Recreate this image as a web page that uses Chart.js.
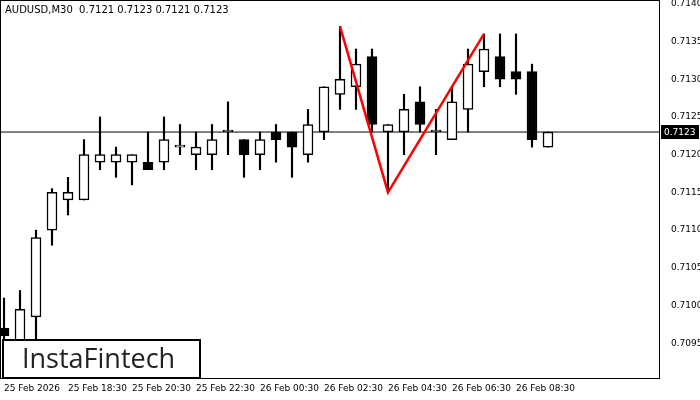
<!DOCTYPE html>
<html>
<head>
<meta charset="utf-8">
<script src="https://cdn.jsdelivr.net/npm/chart.js@4/dist/chart.umd.min.js"></script>
<style>
  html, body { margin: 0; padding: 0; background: #fff; }
  #wrap { width: 700px; height: 400px; }
</style>
</head>
<body>
<div id="wrap"><canvas id="chart"></canvas></div>
<script>
const opens  = [.7097,.7095,.70985,.7110,.7114,.7114,.7119,.7119,.7119,.7119,.7119,.7121,.7120,.7120,.7123,.7122,.7120,.7123,.7123,.7120,.7123,.7128,.7129,.7133,.7123,.7123,.7127,.7123,.7122,.7126,.7131,.7133,.7131,.7131,.7121]
const closes = [.7096,.70995,.7109,.7115,.7115,.7120,.7120,.7120,.7120,.7118,.7122,.7121,.7121,.7122,.7123,.7120,.7122,.7122,.7121,.7124,.7129,.7130,.7132,.7124,.7124,.7126,.7124,.7123,.7127,.7132,.7134,.7130,.7130,.7122,.7123]
const highs  = [.7101,.7102,.7110,.71155,.7117,.7122,.7125,.7121,.7120,.7123,.7125,.7124,.7123,.7124,.7127,.7122,.7123,.7124,.7123,.7126,.7129,.7137,.7134,.7134,.7124,.7128,.7129,.7126,.7129,.7134,.7136,.7136,.7136,.7132,.7123]
const lows   = [.7092,.7093,.7094,.7108,.7112,.7114,.7118,.7117,.7116,.7118,.7118,.7120,.7118,.7118,.7120,.7117,.7118,.7119,.7117,.7119,.7122,.7126,.7126,.7123,.7115,.7120,.7123,.7120,.7122,.7123,.7129,.7129,.7128,.7121,.7121]
const timeLabels = ['25 Feb 2026','25 Feb 18:30','25 Feb 20:30','25 Feb 22:30','26 Feb 00:30','26 Feb 02:30','26 Feb 04:30','26 Feb 06:30','26 Feb 08:30']
const patternX = [21, 24, 30]
const patternY = [.7137, .7115, .7136]
const lastPrice = 0.7123

const idx = opens.map((_, i) => i)
const bull = idx.map(i => closes[i] >= opens[i])

const overlay = {
  id: 'overlay',
  afterDraw(chart) {
    const { ctx, chartArea: a, scales } = chart
    ctx.save()
    ctx.strokeStyle = '#000'; ctx.lineWidth = 1
    ctx.strokeRect(a.left + 0.5, a.top + 0.5, a.right - a.left - 1, a.bottom - a.top)
    ctx.fillStyle = '#000'
    ctx.font = '10px "DejaVu Sans"'
    ctx.textBaseline = 'middle'
    ctx.fillText('AUDUSD,M30  0.7121 0.7123 0.7121 0.7123', 5, 10)
    const y = scales.y.getPixelForValue(lastPrice)
    ctx.fillRect(a.right + 1, y - 7, 38, 14)
    ctx.fillStyle = '#fff'
    ctx.font = '9px "DejaVu Sans"'
    ctx.fillText(lastPrice.toFixed(4), a.right + 4, y + 1)
    ctx.fillStyle = '#fff'
    ctx.fillRect(3, 340, 197, 38)
    ctx.strokeStyle = '#000'; ctx.lineWidth = 2
    ctx.strokeRect(3, 340, 197, 38)
    ctx.fillStyle = '#222'
    ctx.font = '27px "Open Sans"'
    ctx.fillText('InstaFintech', 22, 360)
    ctx.restore()
  }
}

new Chart(document.getElementById('chart'), {
  type: 'bar',
  data: {
    datasets: [
      {
        type: 'line',
        data: [{ x: -0.25, y: lastPrice }, { x: 41, y: lastPrice }],
        borderColor: '#000', borderWidth: 1, pointRadius: 0, order: 3
      },
      {
        label: 'wick',
        data: idx.map(i => ({ x: i, y: [lows[i], highs[i]] })),
        backgroundColor: '#000', borderWidth: 0, barThickness: 1.5, grouped: false, order: 2
      },
      {
        label: 'body',
        data: idx.map(i => ({ x: i, y: [Math.min(opens[i], closes[i]), Math.max(opens[i], closes[i])] })),
        backgroundColor: idx.map(i => bull[i] ? '#fff' : '#000'),
        borderColor: '#000', borderWidth: 1.5, borderSkipped: false,
        barThickness: 10, minBarLength: 2, grouped: false, order: 1
      },
      {
        type: 'line',
        data: patternX.map((x, i) => ({ x, y: patternY[i] })),
        borderColor: '#ff0000', borderWidth: 2.5, pointRadius: 0, order: 0
      }
    ]
  },
  options: {
    responsive: true,
    maintainAspectRatio: false,
    animation: false,
    plugins: { legend: { display: false }, tooltip: { enabled: false } },
    scales: {
      x: {
        type: 'linear', min: -0.25, max: 41, offset: false,
        grid: { display: false },
        border: { display: false },
        afterFit(s) { s.height = 22; s.paddingLeft = 0; s.paddingRight = 0 },
        afterBuildTicks(s) { s.ticks = timeLabels.map((_, i) => ({ value: i * 4 })) },
        ticks: {
          maxRotation: 0, autoSkip: false, align: 'start', padding: -3,
          color: '#000', font: { size: 9, family: 'DejaVu Sans' },
          callback: v => timeLabels[v / 4]
        }
      },
      y: {
        position: 'right', min: 0.70904, max: 0.71405,
        grid: { display: false },
        border: { display: false },
        afterFit(s) { s.width = 40; s.paddingTop = 0; s.paddingBottom = 0 },
        afterBuildTicks(s) {
          const t = []
          for (let k = 0; k <= 9; k++) t.push({ value: 0.7095 + k * 0.0005 })
          s.ticks = t
        },
        ticks: {
          color: '#000', padding: 3, font: { size: 9, family: 'DejaVu Sans' },
          callback: v => v.toFixed(4)
        }
      }
    }
  },
  plugins: [overlay]
})
</script>
</body>
</html>
